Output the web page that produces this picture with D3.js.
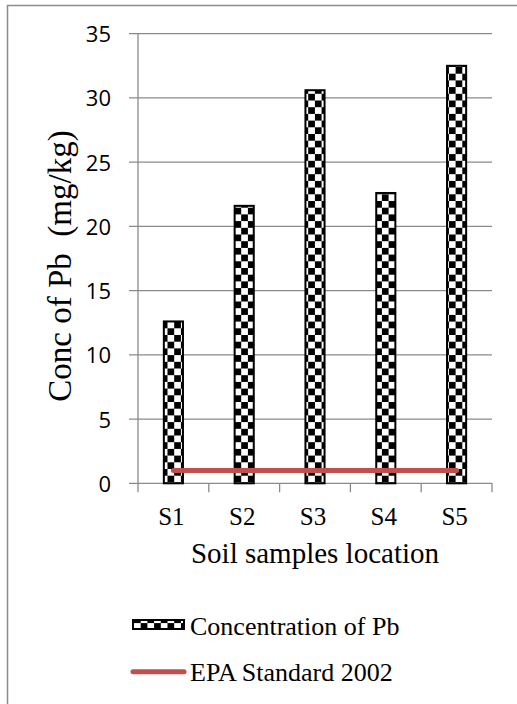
<!DOCTYPE html>
<html>
<head>
<meta charset="utf-8">
<script src="https://cdn.jsdelivr.net/npm/d3@7"></script>
<style>
  html, body { margin: 0; padding: 0; background: #fff; }
  svg { display: block; }
</style>
</head>
<body>
<svg id="chart" width="517" height="704"></svg>
<script>
// Lead concentration per soil sample location
const categories = ["S1", "S2", "S3", "S4", "S5"];
const pbValues = [12.6, 21.6, 30.6, 22.6, 32.5];
const epaValues = [1, 1, 1, 1, 1];
const yTicks = [0, 5, 10, 15, 20, 25, 30, 35];
const seriesNames = ["Concentration of Pb", "EPA Standard 2002"];

const svg = d3.select("#chart");
const serif = "'Liberation Serif', 'Times New Roman', serif";
const sans = "'Open Sans', 'Noto Sans', sans-serif";
const gridColor = "#8a8a8a";
const epaColor = "#C0504D";

// chart frame
svg.append("rect")
  .attr("x", 7.5).attr("y", 5.5)
  .attr("width", 530).attr("height", 720)
  .attr("fill", "none").attr("stroke", "#8c8c8c").attr("stroke-width", 1.5);

// checkerboard fill
const cell = 6.7;
const defs = svg.append("defs");
const pat = defs.append("pattern")
  .attr("id", "checker")
  .attr("patternUnits", "userSpaceOnUse")
  .attr("width", cell * 2).attr("height", cell * 2);
pat.append("rect").attr("width", cell * 2).attr("height", cell * 2).attr("fill", "#fff");
pat.append("rect").attr("x", 0).attr("y", 0).attr("width", cell).attr("height", cell).attr("fill", "#000");
pat.append("rect").attr("x", cell).attr("y", cell).attr("width", cell).attr("height", cell).attr("fill", "#000");

const plotLeft = 138, plotRight = 492, plotTop = 33.7, plotBottom = 483.3;

const x = d3.scaleBand().domain(categories).range([plotLeft, plotRight]).paddingInner(0.73).paddingOuter(0.365);
const xb = d3.scaleBand().domain(categories).range([plotLeft, plotRight]);
const y = d3.scaleLinear().domain([0, 35]).range([plotBottom, plotTop]);

// horizontal gridlines
svg.append("g")
  .selectAll("line")
  .data(yTicks)
  .join("line")
  .attr("x1", plotLeft - 9).attr("x2", plotRight)
  .attr("y1", d => y(d)).attr("y2", d => y(d))
  .attr("stroke", gridColor).attr("stroke-width", 1.3);

// value axis line and labels
svg.append("line")
  .attr("x1", plotLeft).attr("x2", plotLeft)
  .attr("y1", plotTop).attr("y2", plotBottom)
  .attr("stroke", gridColor).attr("stroke-width", 1.3);

svg.append("g")
  .selectAll("text")
  .data(yTicks)
  .join("text")
  .attr("x", 111)
  .attr("y", d => y(d) + 8.5)
  .attr("text-anchor", "end")
  .attr("font-family", sans)
  .attr("font-size", 22)
  .attr("fill", "#000")
  .text(d => d);

// category axis: separators between bands
const boundaries = categories.map(c => xb(c)).concat([xb(categories[categories.length - 1]) + xb.bandwidth()]);
svg.append("g")
  .selectAll("line")
  .data(boundaries)
  .join("line")
  .attr("x1", d => d).attr("x2", d => d)
  .attr("y1", plotBottom).attr("y2", plotBottom + 9)
  .attr("stroke", gridColor).attr("stroke-width", 1.3);

svg.append("g")
  .selectAll("text")
  .data(categories)
  .join("text")
  .attr("x", d => xb(d) + xb.bandwidth() / 2 - 2)
  .attr("y", 525)
  .attr("text-anchor", "middle")
  .attr("font-family", serif)
  .attr("font-size", 25)
  .attr("fill", "#000")
  .text(d => d);

// bars
svg.append("g")
  .selectAll("rect")
  .data(pbValues)
  .join("rect")
  .attr("x", (d, i) => x(categories[i]))
  .attr("width", x.bandwidth())
  .attr("y", d => y(d))
  .attr("height", d => y(0) - y(d))
  .attr("fill", "url(#checker)")
  .attr("stroke", "#000").attr("stroke-width", 2);

// EPA standard line
const line = d3.line()
  .x((d, i) => xb(categories[i]) + xb.bandwidth() / 2)
  .y(d => y(d));
svg.append("path")
  .datum(epaValues)
  .attr("d", line)
  .attr("fill", "none")
  .attr("stroke", epaColor).attr("stroke-width", 5)
  .attr("stroke-linecap", "round");

// axis titles
svg.append("text")
  .attr("transform", `translate(71,266) rotate(-90)`)
  .attr("text-anchor", "middle")
  .attr("font-family", serif)
  .attr("font-size", 33)
  .attr("fill", "#000")
  .attr("xml:space", "preserve")
  .text("Conc of Pb  (mg/kg)");

svg.append("text")
  .attr("x", 315).attr("y", 563)
  .attr("text-anchor", "middle")
  .attr("font-family", serif)
  .attr("font-size", 29)
  .attr("fill", "#000")
  .text("Soil samples location");

// legend
const legend = svg.append("g");
legend.append("rect")
  .attr("x", 133).attr("y", 620).attr("width", 51).attr("height", 9)
  .attr("fill", "url(#checker)")
  .attr("stroke", "#000").attr("stroke-width", 2);
legend.append("text")
  .attr("x", 190).attr("y", 635)
  .attr("font-family", serif).attr("font-size", 26).attr("fill", "#000")
  .text(seriesNames[0]);
legend.append("line")
  .attr("x1", 133).attr("x2", 184).attr("y1", 671.7).attr("y2", 671.7)
  .attr("stroke", epaColor).attr("stroke-width", 5).attr("stroke-linecap", "round");
legend.append("text")
  .attr("x", 190).attr("y", 680.7)
  .attr("font-family", serif).attr("font-size", 26).attr("fill", "#000")
  .text(seriesNames[1]);
</script>
</body>
</html>
